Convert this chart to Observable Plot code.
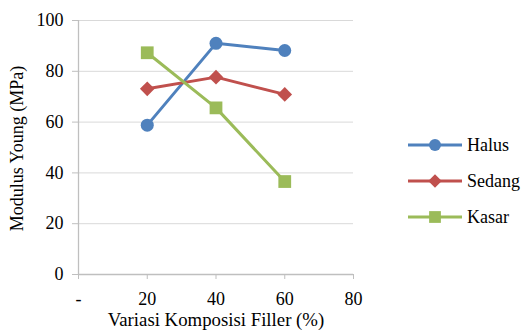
<!DOCTYPE html>
<html><head><meta charset="utf-8">
<script src="https://cdn.jsdelivr.net/npm/d3@7"></script>
<script src="https://cdn.jsdelivr.net/npm/@observablehq/plot@0.6"></script>
</head><body style="margin:0;background:#fff">
<div id="wrap" style="position:relative;width:522px;height:336px;font-family:'Liberation Serif'"><div id="chart"></div><div id="legend" style="position:absolute;left:408px;top:127px;font-family:'Liberation Serif'"></div></div>
<script>
const categories = [20, 40, 60];
const seriesNames = ["Halus", "Sedang", "Kasar"];
const halus = [58.8, 91.0, 88.2];
const sedang = [73.1, 77.7, 70.9];
const kasar = [87.3, 65.6, 36.6];
const xTicks = [0, 20, 40, 60, 80];
const yTicks = [0, 20, 40, 60, 80, 100];
const colors = ["#4F81BD", "#C0504D", "#9BBB59"];
const symbols = ["circle", "diamond2", "square"];
const radii = [6.5, 6.6, 7.2];

const valuesBySeries = [halus, sedang, kasar];
const rows = [];
seriesNames.forEach((s, i) => categories.forEach((c, j) => rows.push({series: s, x: c, y: valuesBySeries[i][j]})));

const FONT = "Liberation Serif";
const chart = Plot.plot({
  width: 522, height: 336,
  marginLeft: 78, marginRight: 169, marginTop: 20, marginBottom: 62,
  style: {fontFamily: FONT, fontSize: "18px", color: "#000", background: "#fff"},
  x: {domain: [0, 80], ticks: xTicks, tickFormat: d => d === 0 ? "-" : String(d), label: null},
  y: {domain: [0, 100], ticks: yTicks, label: null},
  color: {domain: seriesNames, range: colors},
  symbol: {domain: seriesNames, range: symbols},
  marks: [
    Plot.gridY(yTicks.filter(d => d > 0), {stroke: "#d9d9d9", strokeOpacity: 1, strokeWidth: 1}),
    Plot.ruleX([0], {stroke: "#bfbfbf", strokeWidth: 1.3}),
    Plot.ruleY([0], {stroke: "#bfbfbf", strokeWidth: 1.3}),
    Plot.axisY({ticks: yTicks, tickSize: 6, tickPadding: 9, stroke: "#bfbfbf", fontSize: 18, label: null}),
    Plot.axisX({ticks: xTicks, tickSize: 5, tickPadding: 13, stroke: "#bfbfbf", fontSize: 18, label: null, tickFormat: d => d === 0 ? "-" : String(d)}),
    Plot.line(rows, {x: "x", y: "y", z: "series", stroke: "series", strokeWidth: 3}),
    ...seriesNames.map((s, i) => Plot.dot(rows.filter(d => d.series === s), {x: "x", y: "y", symbol: () => symbols[i], fill: colors[i], stroke: "none", r: radii[i]})),
    Plot.text(["Variasi Komposisi Filler (%)"], {frameAnchor: "bottom", textAnchor: "middle", dy: 51, fontSize: 18.8, fill: "#000"}),
    Plot.text(["Modulus Young (MPa)"], {frameAnchor: "left", textAnchor: "middle", dx: -61, dy: 1, rotate: -90, fontSize: 18, fill: "#000"})
  ]
});
d3.select(chart).selectAll("text").attr("font-family", FONT).style("font-family", FONT);
document.getElementById("chart").appendChild(chart);

const legend = document.getElementById("legend");
seriesNames.forEach((s, i) => {
  const row = document.createElement("div");
  row.style.cssText = "display:flex;align-items:center;height:36px;font-size:18px;color:#000;font-family:'Liberation Serif'";
  const sym = d3.symbol(d3["symbol" + (symbols[i] === "circle" ? "Circle" : symbols[i] === "square" ? "Square" : "Diamond2")], Math.PI * radii[i] * radii[i] * 0.85)();
  row.innerHTML = `<svg width="54" height="14" style="margin-right:5px"><line x1="0" x2="54" y1="7" y2="7" stroke="${colors[i]}" stroke-width="3"/><path transform="translate(27,7)" d="${sym}" fill="${colors[i]}"/></svg><span style="font-family:'Liberation Serif'">${s}</span>`;
  legend.appendChild(row);
});
</script>
</body></html>
